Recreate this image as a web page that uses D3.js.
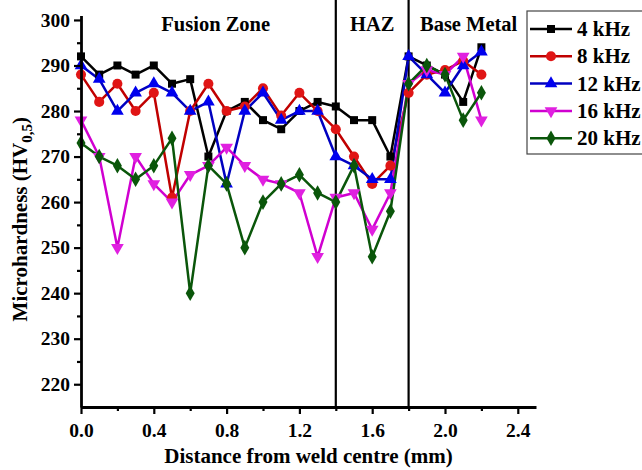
<!DOCTYPE html>
<html><head><meta charset="utf-8">
<script src="https://cdn.jsdelivr.net/npm/d3@7/dist/d3.min.js"></script>
<style>body{margin:0;background:#fff}svg{display:block}text{font-family:"Liberation Serif","Times New Roman",serif;font-weight:bold}</style>
</head><body><svg id="c" width="642" height="470"></svg>
<script>
const distances = [0,0.1,0.2,0.3,0.4,0.5,0.6,0.7,0.8,0.9,1.0,1.1,1.2,1.3,1.4,1.5,1.6,1.7,1.8,1.9,2.0,2.1,2.2];
const s4  = [292,288,290,288,290,286,287,270,280,282,278,276,280,282,281,278,278,270,292,290,288,282,294];
const s8  = [288,282,286,280,284,261,280,286,280,281,285,279,284,280,276,270,264,268,284,288,289,291,288];
const s12 = [290,287,280,284,286,284,280,282,264,280,284,278,280,280,270,268,265,265,292,288,284,290,293];
const s16 = [278,270,250,270,264,260,266,268,272,268,265,264,262,248,261,262,254,262,286,289,288,292,278];
const s20 = [273,270,268,265,268,274,240,268,264,250,260,264,266,262,260,268,248,258,286,290,288,278,284];
const seriesNames = ["4 kHz","8 kHz","12 kHz","16 kHz","20 kHz"];
const xTicks = [0,0.4,0.8,1.2,1.6,2.0,2.4];
const yTicks = [220,230,240,250,260,270,280,290,300];
const zoneBounds = [1.4,1.8];
const zoneLabels = [{t:"Fusion Zone",x:0.74},{t:"HAZ",x:1.6},{t:"Base Metal",x:2.13}];

const series = [
 {name:seriesNames[0], v:s4,  line:"#000000", fill:"#000000", sym:d3.symbolSquare, size:64, rot:0},
 {name:seriesNames[1], v:s8,  line:"#c00000", fill:"#e01515", sym:d3.symbolCircle, size:80, rot:0},
 {name:seriesNames[2], v:s12, line:"#0000c0", fill:"#0000ee", sym:d3.symbolTriangle, size:70, rot:0},
 {name:seriesNames[3], v:s16, line:"#d000d0", fill:"#e020e0", sym:d3.symbolTriangle, size:70, rot:180},
 {name:seriesNames[4], v:s20, line:"#0a560a", fill:"#0a560a", sym:d3.symbolDiamond, size:70, rot:0}
];

const svg = d3.select("#c");
const x = d3.scaleLinear().domain([0,2.5]).range([81,536]);
const y = d3.scaleLinear().domain([215,301]).range([407,15.4]);

// zone lines
svg.selectAll("line.zone").data(zoneBounds).enter().append("line")
  .attr("x1",d=>x(d)).attr("x2",d=>x(d)).attr("y1",0).attr("y2",y(215))
  .attr("stroke","#000").attr("stroke-width",2.2);

svg.selectAll("text.zone").data(zoneLabels).enter().append("text")
  .attr("x",d=>x(d.x)).attr("y",31).attr("text-anchor","middle")
  .attr("font-size",20.5).text(d=>d.t);

// lines & markers
const lineGen = d3.line().x((d,i)=>x(distances[i])).y(d=>y(d));
series.forEach(s=>{
  svg.append("path").attr("d",lineGen(s.v)).attr("fill","none")
    .attr("stroke",s.line).attr("stroke-width",2.5).attr("stroke-linejoin","round");
});
series.forEach(s=>{
  const sym = d3.symbol().type(s.sym).size(s.size);
  svg.append("g").selectAll("path").data(s.v).enter().append("path")
    .attr("d",sym)
    .attr("transform",(d,i)=>`translate(${x(distances[i])},${y(d)}) rotate(${s.rot})`)
    .attr("fill",s.fill);
});

// axes
const gx = svg.append("g").attr("transform",`translate(0,${y(215)})`)
  .call(d3.axisBottom(x).tickValues(xTicks).tickFormat(d3.format(".1f")).tickSize(7).tickSizeOuter(0));
svg.append("g").attr("transform",`translate(0,${y(215)})`)
  .call(d3.axisBottom(x).tickValues([0.2,0.6,1.0,1.4,1.8,2.2]).tickFormat("").tickSize(4).tickSizeOuter(0))
  .select(".domain").remove();
const gy = svg.append("g").attr("transform",`translate(${x(0)},0)`)
  .call(d3.axisLeft(y).tickValues(yTicks).tickSize(7).tickSizeOuter(0));
svg.append("g").attr("transform",`translate(${x(0)},0)`)
  .call(d3.axisLeft(y).tickValues([225,235,245,255,265,275,285,295]).tickFormat("").tickSize(4).tickSizeOuter(0))
  .select(".domain").remove();
svg.selectAll(".domain").attr("stroke","#000").attr("stroke-width",2.8);
svg.selectAll(".tick line").attr("stroke","#000").attr("stroke-width",2.2);
gx.selectAll("text").attr("font-size",19.5).attr("dy","1.0em").attr("fill","#000")
  .style("font-family","'Liberation Serif',serif").style("font-weight","bold");
gy.selectAll("text").attr("font-size",19.5).attr("dx","-0.05em").attr("fill","#000")
  .style("font-family","'Liberation Serif',serif").style("font-weight","bold");

// axis titles
svg.append("text").attr("x",x(1.25)).attr("y",463).attr("text-anchor","middle")
  .attr("font-size",21).text("Distance from weld centre (mm)");
const yt = svg.append("text").attr("transform",`translate(27,${(y(215)+y(301))/2 + 8}) rotate(-90)`)
  .attr("text-anchor","middle").attr("font-size",21);
yt.append("tspan").text("Microhardness (HV");
yt.append("tspan").attr("font-size",15).attr("dy",5).text("0,5");
yt.append("tspan").attr("dy",-5).text(")");

// legend
const lg = svg.append("g");
lg.append("rect").attr("x",527).attr("y",11).attr("width",130).attr("height",143)
  .attr("fill","#fff").attr("stroke","#444").attr("stroke-width",1.2);
series.forEach((s,i)=>{
  const ly = 29 + i*27.3;
  lg.append("line").attr("x1",530).attr("x2",572).attr("y1",ly).attr("y2",ly)
    .attr("stroke",s.line).attr("stroke-width",2.5);
  lg.append("path").attr("d",d3.symbol().type(s.sym).size(s.size)())
    .attr("transform",`translate(551,${ly}) rotate(${s.rot})`).attr("fill",s.fill);
  lg.append("text").attr("x",577).attr("y",ly+7).attr("font-size",21).text(s.name);
});
</script></body></html>
